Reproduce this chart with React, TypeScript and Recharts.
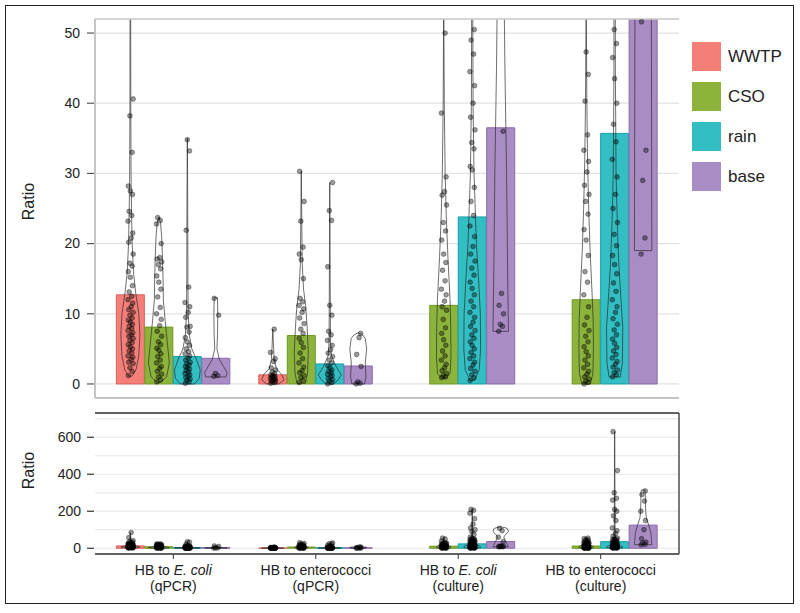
import React from 'react';
import { ComposedChart, Bar, Scatter, XAxis, YAxis, CartesianGrid, ReferenceLine, Cell } from 'recharts';

const FONT = 'Liberation Sans, Arial, sans-serif';

// Series & categories
const SERIES = ['WWTP', 'CSO', 'rain', 'base'];
const FILLS = ['#f47e78', '#8cb43c', '#33bec4', '#aa8cc5'];
const EDGES = ['#d9605b', '#6f9a25', '#1a9fa5', '#8b69ad'];
const GROUP_PREFIX = ['HB to ', 'HB to enterococci', 'HB to ', 'HB to enterococci'];
const GROUP_ITALIC = ['E. coli', '', 'E. coli', ''];
const GROUP_LINE2 = ['(qPCR)', '(qPCR)', '(culture)', '(culture)'];

// Mean ratio (bar heights), per group
const WWTP_MEAN = [12.7, 1.3, null, null];
const CSO_MEAN = [8.1, 6.9, 11.2, 12.0];
const RAIN_MEAN = [3.9, 2.85, 23.8, 35.7];
const BASE_MEAN = [3.66, 2.56, 36.5, 125];

// Violin outlines: [ratio, relative half-width]
const WWTP_VIOLIN = [
  [[1.1, 0.1], [2, 0.4], [4, 0.6], [7, 0.68], [10, 0.6], [13, 0.38], [16, 0.22], [20, 0.13], [25, 0.08], [30, 0.05], [40, 0.03], [60, 0.02], [85, 0]],
  [[0, 0.45], [0.6, 0.8], [1.3, 0.65], [2.2, 0.25], [3.5, 0.1], [5, 0.06], [7.8, 0]],
  null,
  null,
];
const CSO_VIOLIN = [
  [[0.2, 0.1], [1, 0.55], [3, 0.75], [6, 0.6], [9, 0.45], [12, 0.32], [15, 0.3], [18, 0.26], [21, 0.2], [23, 0.12], [23.8, 0]],
  [[0.1, 0.3], [1.5, 0.45], [4.5, 0.5], [8, 0.42], [11, 0.32], [13.5, 0.16], [17, 0.07], [24, 0.03], [30.3, 0]],
  [[0.8, 0.15], [1.5, 0.45], [4, 0.52], [8, 0.5], [12, 0.45], [18, 0.3], [24, 0.18], [30, 0.1], [40, 0.04], [55, 0]],
  [[0, 0.3], [1.5, 0.48], [5, 0.52], [9, 0.5], [13, 0.42], [19, 0.28], [25, 0.18], [32, 0.1], [40, 0.05], [55, 0]],
];
const RAIN_VIOLIN = [
  [[0, 0.5], [0.8, 0.85], [2, 0.92], [3.5, 0.65], [5, 0.32], [7, 0.14], [10, 0.06], [15, 0.04], [25, 0.03], [35, 0]],
  [[0, 0.3], [0.6, 0.6], [1.3, 0.82], [2.5, 0.45], [4, 0.12], [6, 0.05], [15, 0.03], [28.7, 0]],
  [[0.5, 0.15], [2, 0.5], [5, 0.6], [10, 0.58], [15, 0.45], [20, 0.3], [30, 0.13], [40, 0.06], [60, 0.03], [120, 0.02], [210, 0]],
  [[1, 0.4], [3, 0.55], [8, 0.58], [12, 0.45], [17, 0.3], [22, 0.2], [30, 0.1], [45, 0.05], [100, 0.03], [300, 0.02], [630, 0]],
];
const BASE_VIOLIN = [
  [[1, 0.72], [1.6, 0.8], [2.5, 0.55], [3.5, 0.25], [5, 0.08], [7, 0.12], [10, 0.14], [12.3, 0.12]],
  [[0, 0.45], [1, 0.55], [3, 0.5], [5, 0.6], [6.5, 0.5], [7, 0.3], [7.3, 0]],
  [[7.5, 0.55], [15, 0.5], [30, 0.42], [45, 0.3], [60, 0.22], [75, 0.35], [90, 0.55], [105, 0.5], [112, 0.3], [115, 0]],
  [[19, 0.62], [40, 0.6], [80, 0.56], [120, 0.42], [160, 0.24], [200, 0.18], [260, 0.16], [300, 0.15], [315, 0.12]],
];

// Individual sample ratios (jittered points)
const WWTP_POINTS = [
  [1.2, 1.8, 2.3, 2.9, 3.1, 3.5, 3.8, 4.0, 4.4, 4.7, 5.0, 5.3, 5.6, 5.9, 6.2, 6.5, 6.8, 7.0, 7.3, 7.6, 7.9, 8.2, 8.5, 8.8, 9.1, 9.4, 9.8, 10.2, 10.6, 11.0, 11.5, 12.0, 12.5, 13.1, 14.0, 15.2, 16.0, 16.8, 17.2, 18.5, 20.2, 20.8, 21.5, 23.2, 24.0, 24.6, 27.0, 27.5, 28.2, 33.0, 38.2, 40.6, 57, 85],
  [0.1, 0.2, 0.3, 0.4, 0.5, 0.6, 0.7, 0.8, 0.9, 1.0, 1.1, 1.2, 1.3, 1.5, 1.7, 2.0, 2.3, 3.2, 3.6, 4.5, 7.8],
  [],
  [],
];
const CSO_POINTS = [
  [0.3, 0.6, 1.0, 1.4, 1.8, 2.2, 2.5, 3.0, 3.4, 3.9, 4.3, 4.8, 5.1, 5.6, 6.0, 6.8, 7.5, 8.3, 9.2, 10.0, 10.9, 12.4, 13.5, 14.5, 15.4, 16.4, 17.0, 17.4, 17.8, 18.0, 20.0, 22.8, 23.3, 23.7],
  [0.2, 0.5, 0.9, 1.2, 1.6, 1.9, 2.4, 3.0, 3.6, 4.4, 5.2, 5.9, 6.5, 7.2, 7.8, 8.6, 9.4, 10.2, 10.7, 11.2, 11.7, 12.2, 15.0, 17.7, 18.5, 19.5, 23.2, 26.0, 30.3],
  [0.9, 1.0, 1.2, 1.5, 1.9, 2.3, 2.8, 3.4, 4.0, 4.7, 5.5, 6.3, 7.2, 8.0, 9.2, 10.5, 11.0, 11.8, 12.7, 13.5, 14.7, 16.2, 17.3, 18.5, 20.5, 21.8, 23.0, 25.5, 26.9, 27.4, 29.5, 38.6, 50.0, 55.0],
  [0, 0.2, 0.4, 0.7, 1.0, 1.4, 1.8, 2.3, 2.8, 3.4, 4.0, 4.6, 5.3, 6.0, 6.8, 7.6, 8.4, 9.5, 11.0, 12.7, 14.5, 16.0, 18.3, 20.5, 22.0, 24.2, 26.0, 27.0, 28.3, 30.2, 31.7, 33.3, 35.5, 40.3, 44.1, 47.3, 52.5, 55],
];
const RAIN_POINTS = [
  [0.1, 0.3, 0.5, 0.7, 0.9, 1.1, 1.3, 1.5, 1.7, 1.9, 2.1, 2.3, 2.5, 2.7, 2.9, 3.1, 3.4, 3.7, 4.0, 4.3, 4.6, 5.0, 5.5, 6.0, 6.6, 7.4, 8.1, 8.2, 9.5, 10.2, 11.0, 11.6, 13.8, 21.9, 33.2, 34.8],
  [0, 0.2, 0.4, 0.6, 0.8, 1.0, 1.2, 1.4, 1.6, 1.8, 2.0, 2.3, 2.6, 3.0, 3.4, 3.9, 4.4, 4.9, 5.5, 6.2, 7.0, 7.5, 9.8, 11.2, 16.7, 23.3, 24.7, 28.7],
  [0.5, 0.9, 1.3, 1.8, 2.2, 2.7, 3.1, 3.6, 4.0, 4.5, 5.0, 5.5, 6.0, 6.5, 7.0, 7.6, 8.2, 8.8, 9.5, 10.2, 11.0, 11.8, 12.7, 13.6, 14.5, 15.5, 16.5, 17.5, 18.5, 19.6, 21.0, 22.5, 24.0, 26.0, 28.0, 30.5, 31.0, 33.5, 34.4, 36.2, 38.0, 40.0, 42.5, 44.5, 47.0, 49.0, 50.5, 53, 60, 75, 90, 100, 110, 130, 160, 190, 205, 210],
  [1.0, 1.3, 1.6, 2.0, 2.4, 2.8, 3.2, 3.7, 4.2, 4.7, 5.2, 5.8, 6.4, 7.0, 7.7, 8.5, 9.3, 10.2, 11.0, 12.0, 13.2, 14.4, 15.7, 17.0, 18.3, 19.7, 21.3, 23.0, 25.0, 27.0, 29.5, 32.0, 34.5, 37.0, 40.0, 43.5, 46.5, 48.5, 50.5, 55, 65, 80, 95, 110, 150, 175, 200, 210, 260, 270, 300, 420, 630],
];
const BASE_POINTS = [
  [1.1, 1.2, 1.5, 9.8, 12.2],
  [0, 0.1, 0.3, 2.5, 4.2, 6.6, 7.2],
  [7.5, 8.2, 8.5, 10.0, 11.2, 12.9, 36.0, 60, 95, 108],
  [18.5, 20.8, 29.0, 33.3, 51.6, 100, 150, 200, 255, 290, 310],
];

// small horizontal jitter offsets (x-axis units), cycled over points
const JITTER = [-0.016, 0.011, -0.005, 0.018, -0.013, 0.004, 0.015, -0.018, 0.008, -0.01, 0.013, -0.002];

const TOP_TICKS = [0, 10, 20, 30, 40, 50];
const BOTTOM_TICKS = [0, 100, 200, 300, 400, 500, 600, 700];
const BOTTOM_LABELS = [0, 200, 400, 600];
const GROUP_TICKS = [1, 2, 3, 4];

const MEANS = [WWTP_MEAN, CSO_MEAN, RAIN_MEAN, BASE_MEAN];
const VIOLINS = [WWTP_VIOLIN, CSO_VIOLIN, RAIN_VIOLIN, BASE_VIOLIN];
const POINTS = [WWTP_POINTS, CSO_POINTS, RAIN_POINTS, BASE_POINTS];
const SLOT = 0.2;

const rows: any[] = [];
const pts: any[] = [];
for (let g = 0; g < 4; g++) {
  for (let s = 0; s < 4; s++) {
    const m = MEANS[s][g];
    if (m == null) continue;
    const x = g + 1 + (s - 1.5) * SLOT;
    const prof = VIOLINS[s][g] as number[][];
    rows.push({ x, mean: m, vr: [prof[0][0], prof[prof.length - 1][0]], prof, s });
    POINTS[s][g].forEach((v, i) => pts.push({ px: x + JITTER[i % JITTER.length], py: v }));
  }
}

const ViolinShape = (props: any) => {
  const { x, y, width, height, payload } = props;
  if (!payload || !payload.prof) return null;
  const prof = payload.prof as number[][];
  const lo = prof[0][0];
  const hi = prof[prof.length - 1][0];
  const cx = x + width / 2;
  const toY = (v: number) => y + (height * (hi - v)) / (hi - lo);
  const right = prof.map(([v, w]) => `${cx + (w * width) / 2},${toY(v)}`);
  const left = prof.slice().reverse().map(([v, w]) => `${cx - (w * width) / 2},${toY(v)}`);
  const d = `M${right.join('L')}L${left.join('L')}Z`;
  return <path d={d} fill="none" stroke="#2a2a2a" strokeOpacity={0.85} strokeWidth={0.8} />;
};

const Dot = (props: any) => (
  <circle cx={props.cx} cy={props.cy} r={2.4} fill="rgba(0,0,0,0.4)" stroke="rgba(0,0,0,0.55)" strokeWidth={0.6} />
);

const YTickTop = (props: any) => {
  const { x, y, payload } = props;
  return (
    <g>
      <line x1={x + 7} x2={x + 14} y1={y} y2={y} stroke="#555" strokeWidth={1.2} />
      <text x={x} y={y} dy="0.35em" textAnchor="end" fontSize={14} fill="#222" fontFamily={FONT}>
        {payload.value}
      </text>
    </g>
  );
};

const YTickBottom = (props: any) => {
  const { x, y, payload } = props;
  if (!BOTTOM_LABELS.includes(payload.value)) return <g />;
  return (
    <g>
      <line x1={x + 6} x2={x + 13} y1={y} y2={y} stroke="#333" strokeWidth={1.2} />
      <text x={x} y={y} dy="0.35em" textAnchor="end" fontSize={14} fill="#222" fontFamily={FONT}>
        {payload.value}
      </text>
    </g>
  );
};

const XTick = (props: any) => {
  const { x, y, payload } = props;
  const i = payload.value - 1;
  return (
    <text x={x} y={y} textAnchor="middle" fontSize={14} fill="#222" fontFamily={FONT}>
      <tspan x={x} dy={14}>
        {GROUP_PREFIX[i]}
        {GROUP_ITALIC[i] ? <tspan fontStyle="italic">{GROUP_ITALIC[i]}</tspan> : null}
      </tspan>
      <tspan x={x} dy={16}>{GROUP_LINE2[i]}</tspan>
    </text>
  );
};

const RatioLabel = (props: any) => {
  const vb = props.viewBox || { x: 0, y: 0, width: 0, height: 0 };
  const cx = vb.x + 28;
  const cy = vb.y + vb.height / 2 + (props.shift || 0);
  return (
    <text x={cx} y={cy} transform={`rotate(-90, ${cx}, ${cy})`} textAnchor="middle" dominantBaseline="central" fontSize={16} fill="#222" fontFamily={FONT}>
      Ratio
    </text>
  );
};

const XDOMAIN: [number, number] = [0.45, 4.55];

export default function App() {
  return (
    <div style={{ position: 'absolute', left: 0, top: 0, width: 800, height: 613, background: '#fff', fontFamily: FONT }}>
      <div style={{ position: 'absolute', left: 5, top: 5, width: 789, height: 599, border: '1.5px solid #222', boxSizing: 'border-box' }} />
      {/* top panel */}
      <div style={{ position: 'absolute', left: 0, top: 0 }}>
        <ComposedChart width={800} height={400} data={rows} margin={{ top: 19, right: 121, bottom: 0, left: 0 }}>
          <CartesianGrid xAxisId="m" yAxisId="m" vertical={false} stroke="#e2e2e2" strokeWidth={1.2} />
          <XAxis xAxisId="m" type="number" dataKey="x" domain={XDOMAIN} ticks={GROUP_TICKS} tick={false} tickLine={false} axisLine={{ stroke: '#c4c4c4', strokeWidth: 2 }} height={2} allowDataOverflow />
          <XAxis xAxisId="v" type="number" dataKey="x" domain={XDOMAIN} hide allowDataOverflow />
          <XAxis xAxisId="p" type="number" dataKey="px" domain={XDOMAIN} hide allowDataOverflow />
          <YAxis yAxisId="m" type="number" domain={[-2, 52]} ticks={TOP_TICKS} interval={0} allowDataOverflow width={95} tick={<YTickTop />} tickLine={false} tickSize={7} tickMargin={8} axisLine={{ stroke: '#c4c4c4', strokeWidth: 2 }} label={<RatioLabel shift={-7} />} />
          <YAxis yAxisId="p" type="number" dataKey="py" domain={[-2, 52]} allowDataOverflow hide />
          <ReferenceLine xAxisId="m" yAxisId="m" y={52} stroke="#cccccc" strokeWidth={1.5} />
          <Bar xAxisId="m" yAxisId="m" dataKey="mean" barSize={28} isAnimationActive={false}>
            {rows.map((r, i) => (
              <Cell key={i} fill={FILLS[r.s]} stroke={EDGES[r.s]} strokeWidth={1} />
            ))}
          </Bar>
          <Bar xAxisId="v" yAxisId="m" dataKey="vr" barSize={28} shape={ViolinShape} isAnimationActive={false} />
          <Scatter xAxisId="p" yAxisId="p" data={pts} shape={Dot} isAnimationActive={false} />
        </ComposedChart>
      </div>
      {/* bottom panel */}
      <div style={{ position: 'absolute', left: 0, top: 400 }}>
        <ComposedChart width={800} height={213} data={rows} margin={{ top: 13, right: 121, bottom: 0, left: 0 }}>
          <CartesianGrid xAxisId="m" yAxisId="m" vertical={false} stroke="#e6e6e6" strokeWidth={1.2} />
          <XAxis xAxisId="m" type="number" dataKey="x" domain={XDOMAIN} ticks={GROUP_TICKS} interval={0} tick={<XTick />} tickSize={5} tickMargin={2} tickLine={{ stroke: '#333' }} axisLine={{ stroke: '#333', strokeWidth: 1.3 }} height={59} allowDataOverflow />
          <XAxis xAxisId="v" type="number" dataKey="x" domain={XDOMAIN} hide allowDataOverflow />
          <XAxis xAxisId="p" type="number" dataKey="px" domain={XDOMAIN} hide allowDataOverflow />
          <YAxis yAxisId="m" type="number" domain={[-31, 731]} ticks={BOTTOM_TICKS} interval={0} allowDataOverflow width={95} tick={<YTickBottom />} tickLine={false} tickSize={7} tickMargin={7} axisLine={false} label={<RatioLabel shift={-13} />} />
          <YAxis yAxisId="p" type="number" dataKey="py" domain={[-31, 731]} allowDataOverflow hide />
          <ReferenceLine xAxisId="m" yAxisId="m" y={731} stroke="#333" strokeWidth={1.3} />
          <ReferenceLine xAxisId="m" yAxisId="m" x={4.55} stroke="#333" strokeWidth={1.3} />
          <Bar xAxisId="m" yAxisId="m" dataKey="mean" barSize={28} isAnimationActive={false}>
            {rows.map((r, i) => (
              <Cell key={i} fill={FILLS[r.s]} stroke={EDGES[r.s]} strokeWidth={1} />
            ))}
          </Bar>
          <Bar xAxisId="v" yAxisId="m" dataKey="vr" barSize={28} shape={ViolinShape} isAnimationActive={false} />
          <Scatter xAxisId="p" yAxisId="p" data={pts} shape={Dot} isAnimationActive={false} />
        </ComposedChart>
      </div>
      {/* legend */}
      <div style={{ position: 'absolute', left: 692, top: 42 }}>
        {SERIES.map((name, i) => (
          <div key={name} style={{ display: 'flex', alignItems: 'center', height: 29, marginBottom: 11 }}>
            <div style={{ width: 29, height: 29, background: FILLS[i], boxSizing: 'border-box', border: `1px solid ${FILLS[i]}` }} />
            <span style={{ marginLeft: 7, fontSize: 17, color: '#222', fontFamily: FONT }}>{name}</span>
          </div>
        ))}
      </div>
    </div>
  );
}
